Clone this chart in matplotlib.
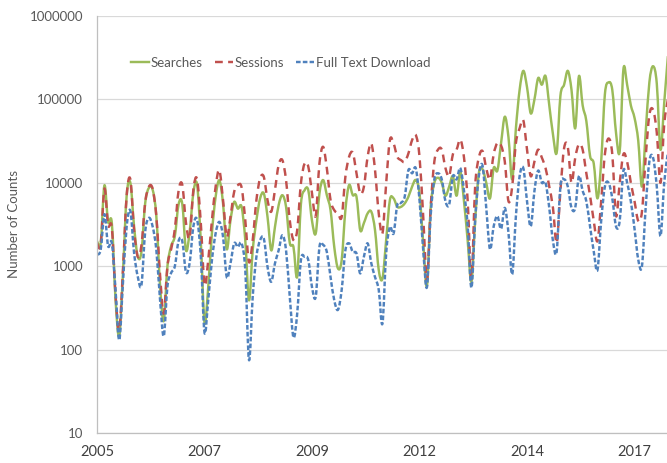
import numpy as np
import pandas as pd
import matplotlib
matplotlib.use("Agg")
import matplotlib.pyplot as plt
from matplotlib.path import Path
from matplotlib.patches import PathPatch
from matplotlib.lines import Line2D

plt.rcParams['font.family'] = ['Lato', 'DejaVu Sans']

# monthly counts, Jan 2005 onwards
months = pd.date_range('2005-01-01', periods=155, freq='MS')

searches = [
    2000, 1900, 9300, 3400, 3300, 400, 145, 830, 7000, 10000,
    3000, 1300, 1500, 5700, 8700, 8300, 4000, 600, 220, 1000,
    1750, 2300, 5500, 5600, 1550, 2600, 7600, 9500, 2000, 210,
    560, 2500, 6800, 10700, 5650, 1600, 3550, 5900, 4900, 5150,
    2050, 390, 1550, 3550, 6500, 7450, 3900, 1550, 2950, 5400,
    7100, 5150, 1900, 1700, 750, 5500, 8150, 8150, 3500, 2470,
    7450, 10800, 7100, 4700, 1700, 940, 1180, 4700, 9400, 7100,
    6800, 2700, 3300, 4300, 4500, 2700, 900, 710, 2050, 6200,
    6500, 5150, 5150, 5650, 6800, 9000, 10800, 7450, 1880, 580,
    5000, 10000, 11500, 10000, 7000, 9000, 12000, 7000, 13500, 6000,
    2000, 650, 3500, 13000, 14500, 10000, 6500, 15000, 14000, 30000,
    62000, 35000, 11000, 45000, 130000, 220000, 140000, 68000, 100000, 180000,
    150000, 190000, 85000, 38000, 23000, 110000, 150000, 220000, 130000, 45000,
    190000, 85000, 55000, 21000, 17000, 6500, 18000, 115000, 160000, 130000,
    40000, 24000, 230000, 150000, 85000, 60000, 32000, 9000, 40000, 160000,
    250000, 155000, 25000, 90000, 330000,
]

sessions = [
    1900, 1800, 8500, 3100, 2900, 450, 170, 900, 7000, 11000,
    2700, 1300, 1800, 5800, 9000, 8500, 4000, 800, 270, 1000,
    1600, 2800, 8000, 9500, 3300, 2200, 8300, 11000, 3300, 600,
    1180, 3550, 9000, 14200, 6200, 2250, 3900, 7800, 9400, 8800,
    3550, 1120, 2050, 6200, 11300, 11800, 6200, 4500, 8200, 16300,
    18700, 10700, 3550, 2050, 2700, 9800, 17000, 15600, 7450, 4000,
    17000, 27000, 14900, 6200, 4700, 4300, 3900, 11800, 20500, 22900,
    13000, 7450, 9000, 20500, 29600, 14200, 4300, 2470, 9800, 32500,
    29600, 20500, 18700, 17800, 22500, 32500, 37300, 20500, 3900, 680,
    5000, 18000, 25000, 25000, 15000, 12000, 22000, 25000, 33000, 20000,
    6000, 700, 9000, 20000, 24000, 15000, 11000, 22000, 30000, 28000,
    18000, 6000, 9000, 30000, 45000, 56000, 25000, 12000, 18000, 25000,
    20000, 15000, 9000, 5000, 1900, 8000, 26000, 27000, 10000, 20000,
    29000, 25000, 13000, 7000, 3500, 2000, 6000, 22000, 34000, 22000,
    4000, 10000, 22000, 18000, 10000, 6000, 3500, 4500, 20000, 65000,
    75000, 40000, 10000, 50000, 100000,
]

downloads = [
    1380, 1580, 4200, 1740, 1900, 520, 130, 630, 3000, 4600,
    1450, 750, 600, 2600, 3800, 3000, 1580, 400, 145, 575,
    830, 1000, 2000, 2000, 850, 1100, 3000, 3600, 1320, 160,
    390, 1180, 2470, 3400, 2250, 740, 1080, 1880, 1700, 1880,
    900, 75, 430, 1300, 2050, 2150, 980, 650, 1080, 1550,
    2350, 1550, 430, 140, 270, 1180, 1300, 1180, 560, 430,
    1700, 1800, 1480, 740, 390, 300, 520, 1550, 1880, 1480,
    1420, 820, 1300, 1880, 1080, 740, 520, 205, 1420, 2950,
    2470, 5400, 5750, 6800, 14200, 13000, 14900, 6200, 1550, 560,
    4000, 11000, 13000, 11000, 6000, 5500, 12000, 11000, 15000, 8000,
    3000, 550, 3500, 12000, 16000, 5000, 1600, 3000, 4000, 2800,
    5000, 2500, 800, 4000, 12000, 15000, 6000, 3000, 8000, 14000,
    10000, 10000, 5000, 2000, 1500, 9000, 11000, 9000, 5000, 5000,
    12000, 8000, 6000, 3000, 1500, 900, 3500, 9000, 10000, 6500,
    3000, 3500, 14000, 10000, 6000, 2800, 1200, 1000, 5000, 18000,
    20000, 9000, 2300, 10000, 23000,
]

series_names = ['Searches', 'Sessions', 'Full Text Download']
y_ticks = [10, 100, 1000, 10000, 100000, 1000000]
label_every = 29

colors = ['#9BBB59', '#C0504D', '#4F81BD']
styles = ['-', (0, (3.2, 2.2)), (0, (1.9, 0.9))]
lw = 1.75


def smooth_path(x, y):
    # excel style smoothed line: bezier through the points, in screen (log) space
    x = np.asarray(x, float)
    ly = np.log10(np.asarray(y, float))
    n = len(x)
    verts = [(x[0], 10 ** ly[0])]
    codes = [Path.MOVETO]
    for i in range(n - 1):
        a = max(i - 1, 0)
        b = min(i + 2, n - 1)
        c1 = (x[i] + (x[i + 1] - x[a]) / 6, ly[i] + (ly[i + 1] - ly[a]) / 6)
        c2 = (x[i + 1] - (x[b] - x[i]) / 6, ly[i + 1] - (ly[b] - ly[i]) / 6)
        verts += [(c1[0], 10 ** c1[1]), (c2[0], 10 ** c2[1]), (x[i + 1], 10 ** ly[i + 1])]
        codes += [Path.CURVE4] * 3
    return Path(verts, codes)


fig = plt.figure(figsize=(6.67, 4.63), dpi=100)
ax = fig.add_axes([97 / 667, 30 / 463, 570.9 / 667, 417 / 463])

x = np.arange(len(months))
handles = []
for vals, name, c, ls in zip([searches, sessions, downloads], series_names, colors, styles):
    patch = PathPatch(smooth_path(x, vals), fill=False, edgecolor=c, lw=lw,
                      linestyle=ls, capstyle='butt', joinstyle='round')
    ax.add_patch(patch)
    handles.append(Line2D([], [], color=c, lw=lw, linestyle=ls, dash_capstyle='butt'))

ax.set_yscale('log')
ax.set_ylim(10, 1000000)
ax.set_xlim(0, len(months) - 1)
ax.set_yticks(y_ticks)
ax.set_yticklabels([str(v) for v in y_ticks])
ax.yaxis.set_minor_locator(plt.NullLocator())

xt = list(range(0, len(months), label_every))
ax.set_xticks(xt)
ax.set_xticklabels([str(months[i].year) for i in xt])

ax.grid(axis='y', color='#d9d9d9', lw=0.9)
ax.set_axisbelow(True)
for s in ['top', 'right']:
    ax.spines[s].set_visible(False)
for s in ['left', 'bottom']:
    ax.spines[s].set_color('#bfbfbf')
    ax.spines[s].set_linewidth(0.9)

ax.tick_params(axis='y', length=0, pad=10, labelsize=9.5, labelcolor='#595959')
ax.tick_params(axis='x', length=0, pad=9, labelsize=10.5, labelcolor='#404040')

ax.set_ylabel('Number of Counts', fontsize=9.5, color='#595959')
ax.yaxis.set_label_coords(-0.135, 0.5)

ax.legend(handles, series_names, loc='center left', ncol=3, frameon=False,
          bbox_to_anchor=(131 / 667, 1 - 62.7 / 463), bbox_transform=fig.transFigure,
          borderaxespad=0, borderpad=0, handlelength=1.4, handletextpad=0.1,
          columnspacing=0.9, fontsize=9.5, labelcolor='#595959')

fig.savefig('out.png', dpi=100)
